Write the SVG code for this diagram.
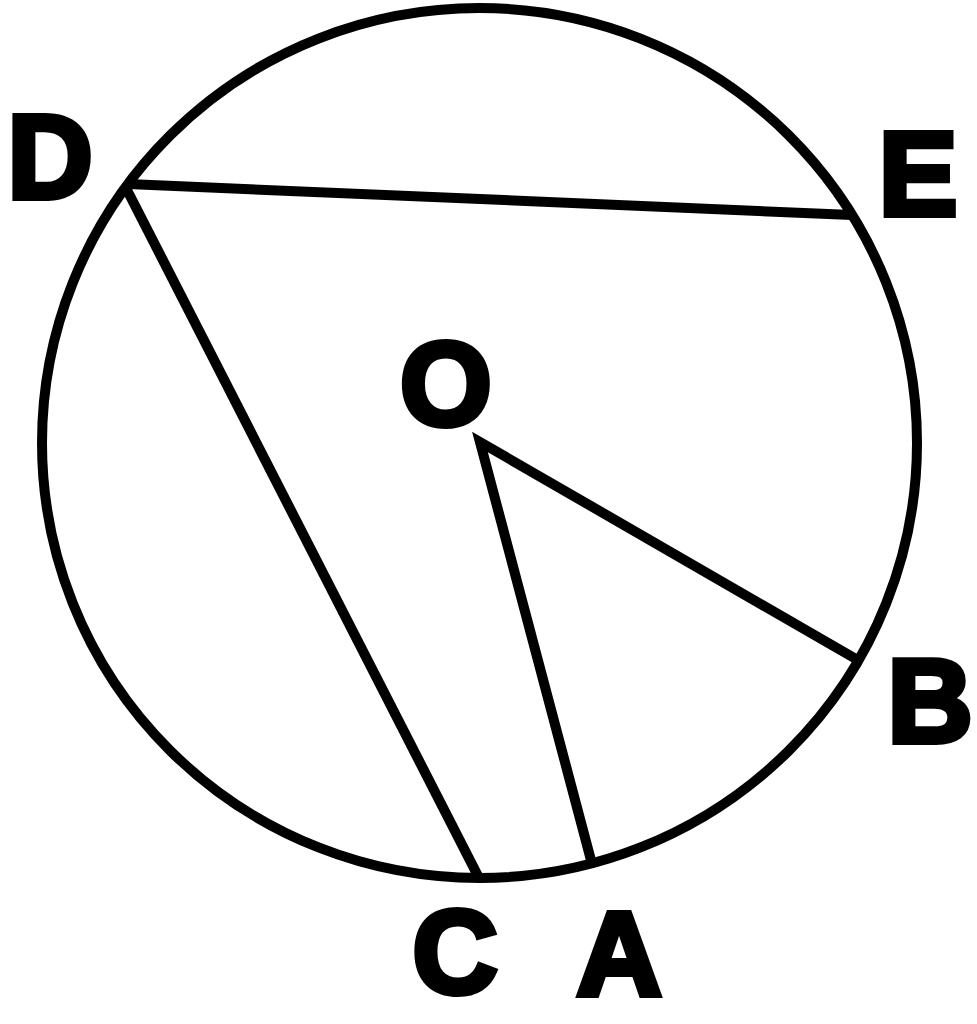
<svg xmlns="http://www.w3.org/2000/svg" width="977" height="1024" viewBox="0 0 977 1024">
<style>
.ln{fill:none;stroke:#000;stroke-width:10;stroke-linejoin:miter;stroke-linecap:butt}
.lb{font-family:"Liberation Sans",Arial,sans-serif;font-weight:bold;font-size:118px;fill:#000;stroke:#000;stroke-width:6;stroke-linejoin:miter;text-anchor:middle}
</style>
<rect width="977" height="1024" fill="#fff"/>
<g id="circle"><ellipse class="ln" cx="479.5" cy="443" rx="437.5" ry="435"/></g>
<g id="connectors">
<line class="ln" x1="128" y1="184" x2="852" y2="215"/>
<line class="ln" x1="126" y1="188" x2="478" y2="876"/>
<polyline class="ln" points="592,864 480,442 856,659"/>
</g>
<g id="D"><text class="lb" x="50" y="198">D</text></g>
<g id="E"><text class="lb" x="918" y="215">E</text></g>
<g id="O"><text class="lb" x="446" y="425">O</text></g>
<g id="B"><text class="lb" x="930" y="742">B</text></g>
<g id="C"><text class="lb" x="455" y="993">C</text></g>
<g id="A"><text class="lb" x="619" y="995">A</text></g>
</svg>
